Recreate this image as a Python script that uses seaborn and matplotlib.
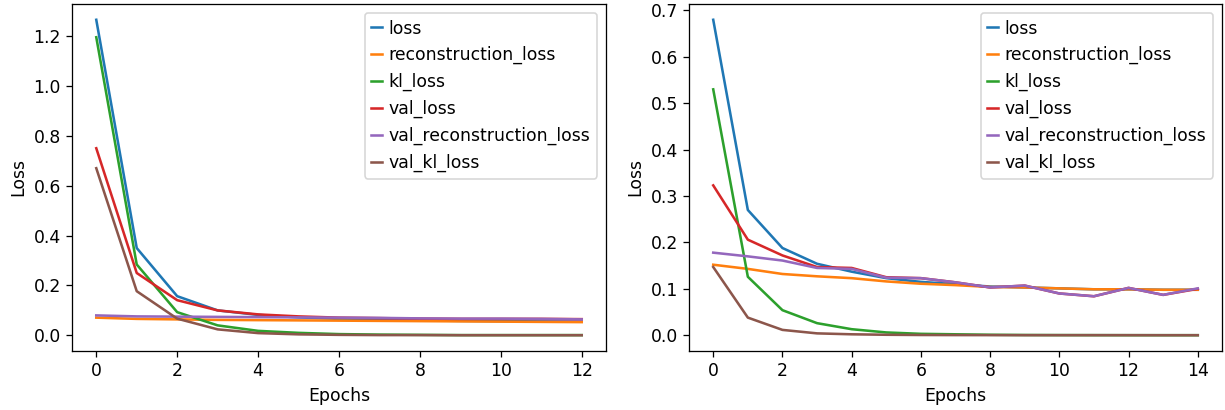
import pandas as pd
import numpy as np
import matplotlib
matplotlib.use('Agg')
import matplotlib.pyplot as plt
import seaborn as sns

metric_names = ['loss', 'reconstruction_loss', 'kl_loss', 'val_loss',
                'val_reconstruction_loss', 'val_kl_loss']

# Left run: 13 epochs
left_loss = [1.265, 0.35, 0.157, 0.10, 0.082, 0.072, 0.066, 0.063, 0.060, 0.058, 0.057, 0.056, 0.055]
left_recon = [0.071, 0.066, 0.064, 0.062, 0.061, 0.060, 0.059, 0.058, 0.057, 0.056, 0.055, 0.054, 0.053]
left_kl = [1.195, 0.284, 0.093, 0.040, 0.018, 0.010, 0.005, 0.003, 0.002, 0.001, 0.001, 0.001, 0.001]
left_val_loss = [0.75, 0.25, 0.141, 0.10, 0.084, 0.076, 0.071, 0.069, 0.067, 0.066, 0.066, 0.066, 0.065]
left_val_recon = [0.080, 0.076, 0.075, 0.074, 0.073, 0.072, 0.071, 0.070, 0.068, 0.067, 0.067, 0.066, 0.064]
left_val_kl = [0.67, 0.177, 0.067, 0.024, 0.009, 0.004, 0.002, 0.001, 0.001, 0.0005, 0.0005, 0.0005, 0.0005]

# Right run: 15 epochs
right_loss = [0.68, 0.27, 0.188, 0.154, 0.137, 0.123, 0.115, 0.110, 0.105, 0.103, 0.101, 0.099, 0.099, 0.098, 0.098]
right_recon = [0.152, 0.143, 0.132, 0.127, 0.123, 0.116, 0.111, 0.108, 0.104, 0.103, 0.101, 0.099, 0.099, 0.098, 0.098]
right_kl = [0.53, 0.126, 0.054, 0.026, 0.013, 0.006, 0.003, 0.002, 0.001, 0.0005, 0.0003, 0.0002, 0.0001, 0.0001, 0.0001]
right_val_loss = [0.323, 0.206, 0.172, 0.147, 0.145, 0.125, 0.123, 0.114, 0.103, 0.107, 0.090, 0.084, 0.102, 0.087, 0.100]
right_val_recon = [0.178, 0.170, 0.161, 0.145, 0.143, 0.124, 0.123, 0.114, 0.103, 0.107, 0.090, 0.084, 0.102, 0.087, 0.101]
right_val_kl = [0.147, 0.038, 0.0115, 0.004, 0.002, 0.001, 0.0005, 0.0003, 0.0002, 0.0001, 0.0001, 0.0001, 0.0001, 0.0, 0.0]

left_runs = [left_loss, left_recon, left_kl, left_val_loss, left_val_recon, left_val_kl]
right_runs = [right_loss, right_recon, right_kl, right_val_loss, right_val_recon, right_val_kl]


def to_long(runs):
    frames = []
    for name, vals in zip(metric_names, runs):
        frames.append(pd.DataFrame({'Epochs': np.arange(len(vals)), 'Loss': vals, 'metric': name}))
    return pd.concat(frames, ignore_index=True)


plt.rcParams['font.size'] = 10.8

dpi = 115
fig = plt.figure(figsize=(1225 / dpi, 410 / dpi), dpi=dpi)
ax1 = fig.add_axes([72 / 1225, 1 - 351 / 410, (606 - 72) / 1225, (351 - 4) / 410])
ax2 = fig.add_axes([689 / 1225, 1 - 351 / 410, (1222 - 689) / 1225, (351 - 4) / 410])

palette = sns.color_palette('tab10', 6)

for ax, runs in [(ax1, left_runs), (ax2, right_runs)]:
    df = to_long(runs)
    sns.lineplot(data=df, x='Epochs', y='Loss', hue='metric', palette=palette,
                 hue_order=metric_names, linewidth=1.6, ax=ax)
    ax.legend(loc='upper right', handlelength=0.6, handletextpad=0.4)
    ax.set_xlabel('Epochs')
    ax.set_ylabel('Loss')
    ax.set_xticks(np.arange(0, len(runs[0]), 2))

fig.savefig('out.png', dpi=dpi)
